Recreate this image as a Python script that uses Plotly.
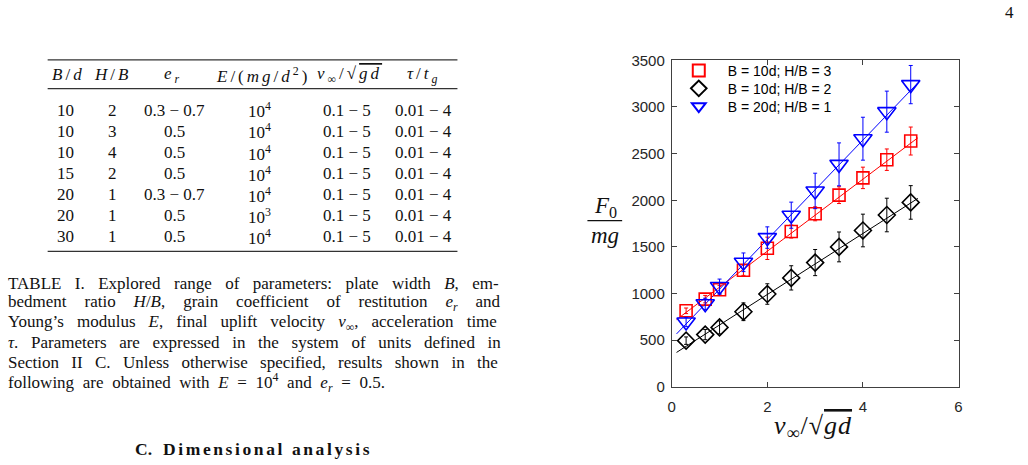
import plotly.graph_objects as go

W, H = 1028, 465

# ---------------- data ----------------
v_inf = [0.3, 0.7, 1.0, 1.5, 2.0, 2.5, 3.0, 3.5, 4.0, 4.5, 5.0]
red_F = [815, 940, 1040, 1250, 1485, 1665, 1855, 2055, 2240, 2435, 2635]
red_err = [30, 40, 45, 55, 120, 70, 75, 90, 115, 115, 150]
black_F = [495, 560, 637, 805, 995, 1168, 1332, 1500, 1676, 1842, 1977]
black_err = [40, 55, 70, 95, 110, 130, 140, 160, 175, 180, 180]
blue_F = [695, 890, 1075, 1335, 1600, 1840, 2100, 2385, 2660, 2950, 3240]
blue_err = [50, 60, 80, 100, 115, 140, 190, 230, 230, 220, 205]

# linear fits (slope, intercept) and plotted x extent
fit_red = (386, 682)
fit_black = (327, 336)
fit_blue = (533, 514)
fit_x = [0.1, 5.15]

series_names = ["B = 10d; H/B = 3", "B = 10d; H/B = 2", "B = 20d; H/B = 1"]

# table
tab_Bd = ["10", "10", "10", "15", "20", "20", "30"]
tab_HB = ["2", "3", "4", "2", "1", "1", "1"]
tab_er = ["0.3 − 0.7", "0.5", "0.5", "0.5", "0.3 − 0.7", "0.5", "0.5"]
tab_Eexp = ["4", "4", "4", "4", "4", "3", "4"]
tab_v = ["0.1 − 5"] * 7
tab_tau = ["0.01 − 4"] * 7

caption_lines = [
    "TABLE I. Explored range of parameters: plate width <i>B</i>, em-",
    "bedment ratio <i>H</i>/<i>B</i>, grain coefficient of restitution <i>e<sub>r</sub></i> and",
    "Young’s modulus <i>E</i>, final uplift velocity <i>v</i><sub>∞</sub>, acceleration time",
    "<i>τ</i>. Parameters are expressed in the system of units defined in",
    "Section II C. Unless otherwise specified, results shown in the",
    "following are obtained with <i>E</i> = 10<sup>4</sup> and <i>e<sub>r</sub></i> = 0.5.",
]
caption_wordspacing = [9.2, 13.7, 8.8, 8.4, 8.1, 4.4]


def Yc(y):
    # slight vertical stretch about the page centre
    return 232 + (y - 232) * 1.03


def px(x):
    return x / W


def py(y):
    return 1 - Yc(y) / H


SERIF = "Liberation Serif"
SANS = "Liberation Sans"

fig = go.Figure()

# fit lines
for (m, b), col in [(fit_red, "#ff0000"), (fit_black, "#000000"), (fit_blue, "#0000ff")]:
    fig.add_trace(go.Scatter(x=fit_x, y=[m * fit_x[0] + b, m * fit_x[1] + b], mode="lines",
                             line=dict(color=col, width=1), showlegend=False, hoverinfo="skip"))

legend_ids = ["legend", "legend2", "legend3"]
for k, (name, yv, err, col, sym, sz) in enumerate([
    (series_names[0], red_F, red_err, "#ff0000", "square-open", 12),
    (series_names[1], black_F, black_err, "#000000", "diamond-open", 13),
    (series_names[2], blue_F, blue_err, "#0000ff", "triangle-down-open", 16),
]):
    fig.add_trace(go.Scatter(
        x=v_inf, y=yv, mode="markers", name=name, legend=legend_ids[k],
        marker=dict(symbol=sym, size=sz, color=col, line=dict(width=1.6, color=col)),
        error_y=dict(type="data", array=err, visible=True, color=col, thickness=1, width=2),
    ))

x0p, x1p = 673, 962
y0p, y1p = 387.5, 58.5

axis_common = dict(showline=True, mirror="ticks", linecolor="#404040", linewidth=1,
                   ticks="inside", ticklen=5, tickcolor="#404040", showgrid=False,
                   zeroline=False, tickfont=dict(family=SANS, size=15, color="#262626"))

fig.update_xaxes(range=[0, 6], tickvals=[0, 2, 4, 6], domain=[px(x0p), px(x1p)],
                 ticklabelstandoff=6, **axis_common)
fig.update_yaxes(range=[0, 3500], tickvals=list(range(0, 3501, 500)),
                 domain=[py(y0p), py(y1p)], ticklabelstandoff=3, **axis_common)

leg_common = dict(xanchor="left", yanchor="top", itemwidth=48,
                  font=dict(family=SANS, size=14, color="#000"), bgcolor="rgba(0,0,0,0)",
                  itemsizing="constant")
fig.update_layout(
    width=W, height=H, margin=dict(l=0, r=0, t=0, b=0),
    paper_bgcolor="white", plot_bgcolor="white",
    legend=dict(x=px(671), y=py(53), **leg_common),
    legend2=dict(x=px(671), y=py(71), **leg_common),
    legend3=dict(x=px(671), y=py(89), **leg_common),
)

ann = []
shapes = []


def text(x, y, s, size=15, family=SERIF, xanchor="center", color="#111"):
    ann.append(dict(x=px(x), y=py(y), xref="paper", yref="paper", text=s, showarrow=False,
                    xanchor=xanchor, yanchor="middle", font=dict(family=family, size=size, color=color)))


def hline(x0, x1, y, w=1.0, color="#333"):
    shapes.append(dict(type="line", xref="paper", yref="paper", x0=px(x0), x1=px(x1),
                       y0=py(y), y1=py(y), line=dict(color=color, width=w)))


# axis labels
text(815, 428, "<span style='letter-spacing:1px'><i>v</i><sub>∞</sub>/√</span>"
     "<span style='text-decoration:overline;letter-spacing:1px'><i>gd</i></span>", size=26)
text(606, 206, "<i>F</i><sub>0</sub>", size=23)
hline(588, 623, 220, w=1.1, color="#111")
text(606, 235, "<i>mg</i>", size=23)

# page number
text(1013, 10, "4", size=17)

# table
cols = [65, 109, 170, 261, 348, 423]
headers = ["<i>B</i>/<i>d</i>", "<i>H</i>/<i>B</i>", "<i>e<sub>r</sub></i>",
           "<i>E</i>/(<i>mg</i>/<i>d</i><sup>2</sup>)",
           "<i>v</i><sub>∞</sub>/√<span style='text-decoration:overline'><i>gd</i></span>",
           "<i>τ</i>/<i>t<sub>g</sub></i>"]
hline(44, 457, 58, w=1.2)
for c, h in zip(cols, headers):
    text(c, 73, "<span style='letter-spacing:3px'>" + h + "</span>", size=17)
hline(44, 457, 87, w=1.2)
for i in range(7):
    yy = 109 + 21.2 * i
    text(62, yy, tab_Bd[i], size=17)
    text(109, yy, tab_HB[i], size=17)
    text(172, yy, tab_er[i], size=17)
    text(257, yy, "10<sup>" + tab_Eexp[i] + "</sup>", size=17)
    text(346, yy, tab_v[i], size=17)
    text(423, yy, tab_tau[i], size=17)
hline(44, 457, 251, w=1.2)

# caption
for i, line in enumerate(caption_lines):
    s = "<span style='word-spacing:%.1fpx'>" % caption_wordspacing[i] + line + "</span>"
    text(2, 283 + 20 * i, s, size=17, xanchor="left")

text(141, 450, "<b>C.</b>", size=17.5)
text(266, 450, "<span style='letter-spacing:2.6px'><b>Dimensional analysis</b></span>", size=17.5)

fig.update_layout(annotations=ann, shapes=shapes)
fig.write_html("out.html")
